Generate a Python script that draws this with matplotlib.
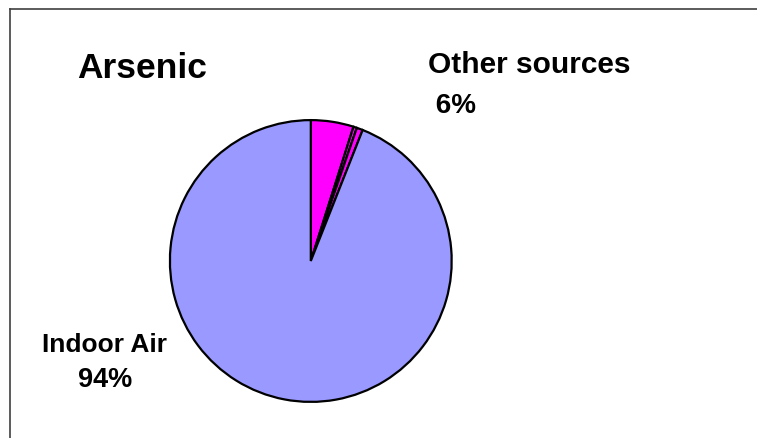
import matplotlib
matplotlib.use("Agg")
import matplotlib.pyplot as plt
from matplotlib.lines import Line2D

# arsenic exposure by source, percent
sources = ["Other sources a", "Other sources b", "Other sources c", "Indoor Air"]
shares = [4.9, 0.4, 0.7, 94.0]
colors = ["#FF00FF", "#FF00FF", "#FF00FF", "#9999FF"]

W, H = 757, 438
fig = plt.figure(figsize=(W / 100, H / 100), dpi=100)
plt.rcParams["font.family"] = ["Liberation Sans", "DejaVu Sans"]

# pie centred at (311, 261) px, radius 142 px
cx, cy, r = 310.8, 261.0, 142.3
ax = fig.add_axes([(cx - r) / W, (H - cy - r) / H, 2 * r / W, 2 * r / H])
ax.pie(shares, colors=colors, startangle=90, counterclock=False, radius=1,
       wedgeprops=dict(edgecolor="black", linewidth=1.6))
ax.set_xlim(-1.01, 1.01)
ax.set_ylim(-1.01, 1.01)
ax.set_aspect("equal")
ax.axis("off")

# open frame on the left and top
fig.add_artist(Line2D([9.5 / W, 9.5 / W], [0, 1 - 8.5 / H], transform=fig.transFigure,
                      color="#404040", linewidth=1.2))
fig.add_artist(Line2D([9.5 / W, 1], [1 - 8.5 / H, 1 - 8.5 / H], transform=fig.transFigure,
                      color="#404040", linewidth=1.2))

def px(x, y):
    return x / W, 1 - y / H

fig.text(*px(77, 78), "Arsenic", fontsize=25.5, fontweight="bold", va="baseline", ha="left")
fig.text(*px(428, 73), "Other sources", fontsize=21.5, fontweight="bold", va="baseline", ha="left")
fig.text(*px(428, 113), " %d%%" % round(sum(shares[:3])), fontsize=20, fontweight="bold",
         va="baseline", ha="left")
fig.text(*px(105, 352), "Indoor Air", fontsize=19, fontweight="bold", va="baseline", ha="center")
fig.text(*px(105, 387), "%d%%" % round(shares[3]), fontsize=19.5, fontweight="bold",
         va="baseline", ha="center")

fig.savefig("out.png", dpi=100)
